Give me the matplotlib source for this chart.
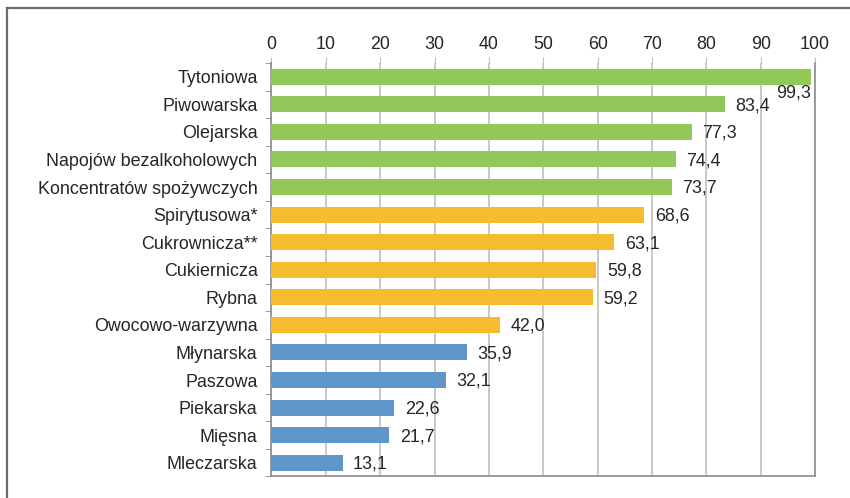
import matplotlib.pyplot as plt
from matplotlib.lines import Line2D

plt.rcParams['font.family'] = ['Liberation Sans', 'DejaVu Sans']

branze = ['Tytoniowa', 'Piwowarska', 'Olejarska', 'Napojów bezalkoholowych',
          'Koncentratów spożywczych', 'Spirytusowa*', 'Cukrownicza**', 'Cukiernicza',
          'Rybna', 'Owocowo-warzywna', 'Młynarska', 'Paszowa', 'Piekarska',
          'Mięsna', 'Mleczarska']
wartosci = [99.3, 83.4, 77.3, 74.4, 73.7, 68.6, 63.1, 59.8, 59.2, 42.0,
            35.9, 32.1, 22.6, 21.7, 13.1]
grupy = [0, 0, 0, 0, 0, 1, 1, 1, 1, 1, 2, 2, 2, 2, 2]
kolory_grup = ['#92c75a', '#f4bc2e', '#5f97cd']

tekst = '#262626'
szary = '#8c8c8c'
rozmiar = 12.9

fig = plt.figure(figsize=(8.5, 4.98), dpi=100)
ax = fig.add_axes([0.3194, 0.0432, 0.6394, 0.8303])

y = list(range(len(branze)))
kolory = [kolory_grup[g] for g in grupy]
ax.barh(y, wartosci, height=0.58, color=kolory, zorder=3)

ax.set_xlim(0, 100)
ax.set_ylim(len(branze) - 0.5, -0.5)
ax.set_xticks(range(0, 101, 10))
ax.xaxis.tick_top()
ax.tick_params(axis='x', length=4, color='#bfbfbf', labelsize=rozmiar,
               labelcolor=tekst, pad=3)
ax.grid(axis='x', color='#bfbfbf', linewidth=1.2, zorder=0)

ax.set_yticks(y)
ax.set_yticklabels(branze)
ax.set_yticks([i + 0.5 for i in range(-1, len(branze))], minor=True)
ax.tick_params(axis='y', which='major', length=0, labelsize=rozmiar,
               labelcolor=tekst, pad=10)
ax.tick_params(axis='y', which='minor', length=4, color=szary)

ax.spines['top'].set_visible(False)
for s in ['left', 'bottom', 'right']:
    ax.spines[s].set_color(szary)
    ax.spines[s].set_linewidth(1.2)

# etykiety wartości
for i, v in enumerate(wartosci):
    txt = f'{v:.1f}'.replace('.', ',')
    if v > 95:
        ax.annotate(txt, (v, i), xytext=(0, -12), textcoords='offset points',
                    ha='right', va='center', fontsize=rozmiar, color=tekst)
    else:
        ax.annotate(txt, (v, i), xytext=(7.5, -1), textcoords='offset points',
                    ha='left', va='center', fontsize=rozmiar, color=tekst)

# ramka wokół wykresu
x0 = 7 / 850
y0 = 1 - 8 / 498
fig.add_artist(Line2D([x0, 1], [y0, y0], transform=fig.transFigure,
                      color='#6e6e6e', linewidth=1.6))
fig.add_artist(Line2D([x0, x0], [0, y0], transform=fig.transFigure,
                      color='#6e6e6e', linewidth=1.6))

fig.savefig('out.png', dpi=100)
